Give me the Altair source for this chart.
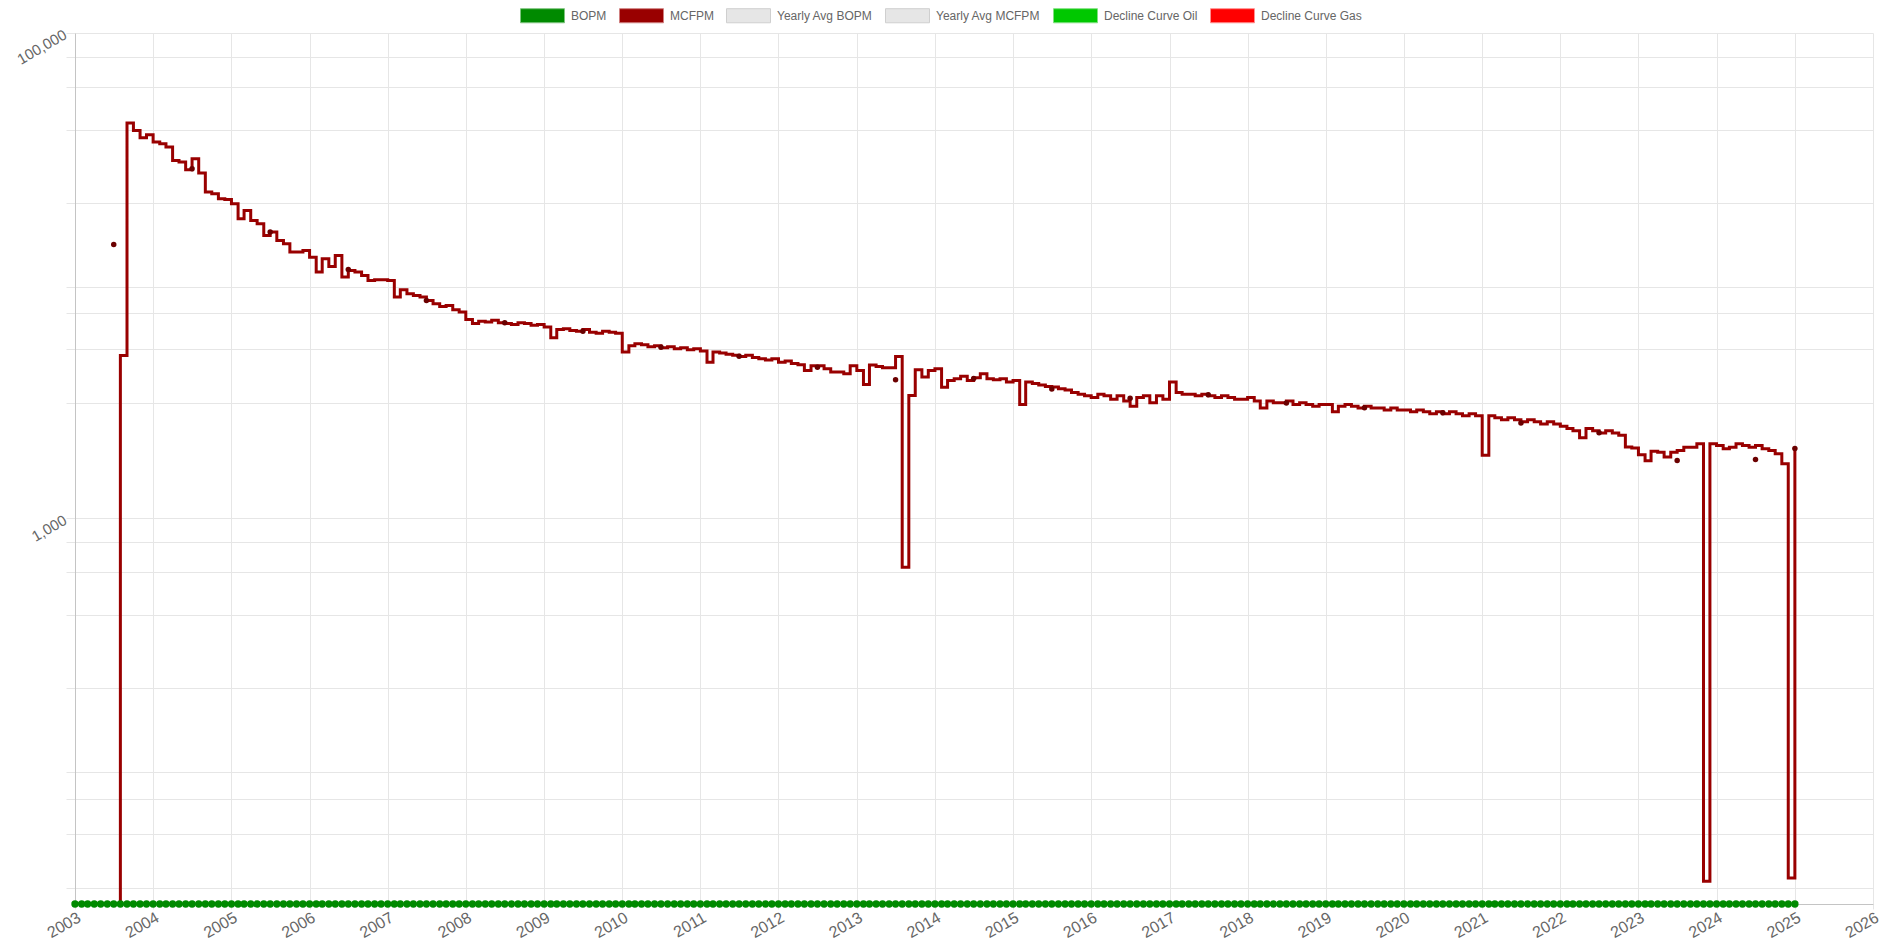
import altair as alt
import pandas as pd

# ---------------- data ----------------
Y_MIN = 25.8  # bottom of the log axis

mcfpm_2003 = [0, 0, 0, 0, 0, 0, 0, 4695, 42540, 39690, 37020, 38080]
mcfpm_2004 = [35520, 34970, 33880, 29860, 29390, 27330, 30330, 26480, 22110, 21760, 20750, 20620]
mcfpm_2005 = [19790, 17170, 18580, 16900, 16370, 14660, 15130, 13980, 13540, 12510, 12510, 12710]
mcfpm_2006 = [11930, 10350, 11740, 10920, 12120, 9870, 10510, 10350, 10030, 9560, 9625, 9625]
mcfpm_2007 = [9560, 8166, 8755, 8428, 8296, 8166, 7911, 7665, 7474, 7545, 7242, 7083]
mcfpm_2008 = [6600, 6350, 6500, 6450, 6550, 6400, 6350, 6300, 6400, 6350, 6250, 6300]
mcfpm_2009 = [6150, 5550, 6000, 6050, 5950, 5900, 6000, 5850, 5800, 5900, 5850, 5800]
mcfpm_2010 = [4850, 5150, 5250, 5200, 5100, 5150, 5050, 5100, 5000, 5050, 4950, 5000]
mcfpm_2011 = [4900, 4400, 4850, 4800, 4750, 4700, 4650, 4700, 4600, 4550, 4500, 4550]
mcfpm_2012 = [4400, 4450, 4350, 4300, 4070, 4260, 4260, 4137, 4010, 4010, 3945, 4260]
mcfpm_2013 = [4070, 3565, 4290, 4230, 4175, 4175, 4650, 630, 3211, 4098, 3824, 4070]
mcfpm_2014 = [4137, 3475, 3703, 3760, 3850, 3703, 3800, 3945, 3760, 3726, 3760, 3650]
mcfpm_2015 = [3700, 2950, 3650, 3600, 3550, 3500, 3480, 3420, 3380, 3300, 3250, 3200]
mcfpm_2016 = [3150, 3250, 3200, 3100, 3200, 3050, 2900, 3150, 3200, 3000, 3200, 3100]
mcfpm_2017 = [3650, 3300, 3250, 3250, 3200, 3250, 3200, 3150, 3200, 3150, 3100, 3100]
mcfpm_2018 = [3150, 3050, 2850, 3050, 3000, 3000, 3050, 2950, 3000, 2950, 2900, 2950]
mcfpm_2019 = [2950, 2750, 2900, 2950, 2900, 2850, 2900, 2850, 2850, 2800, 2850, 2800]
mcfpm_2020 = [2800, 2750, 2800, 2750, 2700, 2750, 2700, 2750, 2700, 2650, 2700, 2650]
mcfpm_2021 = [1820, 2650, 2600, 2550, 2600, 2550, 2500, 2550, 2500, 2450, 2500, 2450]
mcfpm_2022 = [2400, 2350, 2300, 2150, 2350, 2300, 2250, 2300, 2250, 2200, 1970, 1950]
mcfpm_2023 = [1830, 1730, 1890, 1876, 1790, 1876, 1906, 1966, 1966, 2031, 32, 2031]
mcfpm_2024 = [2000, 1936, 1966, 2031, 2000, 1966, 2000, 1936, 1906, 1848, 1680, 33]
mcfpm_2025 = [1936]

# oil production is zero every month (dots sit on the axis floor)
bopm_per_month = 0

yearly_avg_dates = [f"{y}-07-01" for y in range(2003, 2025)] + ["2025-01-01"]
yearly_avg_mcfpm = [13460, 27600, 15130, 10620, 7910, 6400, 5900, 5070, 4660, 4200,
                    3730, 3770, 3415, 3125, 3230, 2990, 2860, 2725, 2475, 2254,
                    1734, 1750, 1940]

legend_names = ["BOPM", "MCFPM", "Yearly Avg BOPM", "Yearly Avg MCFPM",
                "Decline Curve Oil", "Decline Curve Gas"]
legend_fill = ["#008a00", "#990000", "#e6e6e6", "#e6e6e6", "#00c800", "#ff0000"]
legend_stroke = ["#7fc47f", "#d08080", "#cfcfcf", "#cfcfcf", "#80e080", "#ff9090"]

y_grid_values = [30, 50, 70, 90, 200, 400, 600, 800, 1000, 3000, 5000, 7000, 9000,
                 20000, 40000, 60000, 80000, 100000]

# ---------------- tables ----------------
months = [f"{y}-{m:02d}-01" for y in range(2003, 2025) for m in range(1, 13)] + ["2025-01-01"]
mcfpm = (mcfpm_2003 + mcfpm_2004 + mcfpm_2005 + mcfpm_2006 + mcfpm_2007 + mcfpm_2008 +
         mcfpm_2009 + mcfpm_2010 + mcfpm_2011 + mcfpm_2012 + mcfpm_2013 + mcfpm_2014 +
         mcfpm_2015 + mcfpm_2016 + mcfpm_2017 + mcfpm_2018 + mcfpm_2019 + mcfpm_2020 +
         mcfpm_2021 + mcfpm_2022 + mcfpm_2023 + mcfpm_2024 + mcfpm_2025)
monthly = pd.DataFrame({"date": months, "MCFPM": mcfpm,
                        "BOPM": [bopm_per_month] * len(months)})
yearly = pd.DataFrame({"date": yearly_avg_dates, "avg": yearly_avg_mcfpm})
legend_df = pd.DataFrame({"series": legend_names,
                          "date": ["1990-01-01"] * len(legend_names),
                          "v": [1000] * len(legend_names)})

FONT = "Liberation Sans"
GRID = "#e6e6e6"

x_scale = alt.Scale(type="utc", domain=[alt.DateTime(year=2003, month=1, date=1, utc=True),
                                        alt.DateTime(year=2026, month=1, date=1, utc=True)])
y_scale = alt.Scale(type="log", domain=[Y_MIN, 100000], nice=False)

x_axis = alt.Axis(title=None, tickCount={"interval": "year", "step": 1},
                  labelExpr="utcFormat(datum.value, '%Y')",
                  labelAngle=-30, labelAlign="right", labelBaseline="top",
                  labelFontSize=16, labelFont=FONT, labelColor="#666666",
                  labelFlush=False, labelOverlap=False, labelPadding=0,
                  gridColor=GRID, tickColor=GRID, tickSize=5,
                  domainColor="#c4c4c4")
y_axis = alt.Axis(title=None, values=y_grid_values,
                  labelExpr="datum.value == 1000 || datum.value == 100000 ? format(datum.value, ',') : ''",
                  labelAngle=-30, labelAlign="right", labelBaseline="middle",
                  labelFontSize=15, labelFont=FONT, labelColor="#666666",
                  labelOverlap=False, labelPadding=1,
                  gridColor=GRID, tickColor=GRID, tickSize=9,
                  domainColor="#c4c4c4")

line = alt.Chart(monthly).transform_calculate(
    plotv=f"max(datum.MCFPM, {Y_MIN})"
).mark_line(interpolate="step-after", color="#990000", strokeWidth=3, clip=True).encode(
    x=alt.X("date:T", scale=x_scale, axis=x_axis),
    y=alt.Y("plotv:Q", scale=y_scale, axis=y_axis),
)

avg_dots = alt.Chart(yearly).mark_circle(size=30, color="#6b0000", opacity=1).encode(
    x=alt.X("date:T", scale=x_scale),
    y=alt.Y("avg:Q", scale=y_scale),
)

bopm_dots = alt.Chart(monthly).transform_calculate(
    plotv=f"max(datum.BOPM, {Y_MIN})"
).mark_circle(size=55, color="#008a00", opacity=1).encode(
    x=alt.X("date:T", scale=x_scale),
    y=alt.Y("plotv:Q", scale=y_scale),
)

legend_layer = alt.Chart(legend_df).mark_square(filled=True, clip=True, strokeWidth=1).encode(
    x=alt.X("date:T", scale=x_scale),
    y=alt.Y("v:Q", scale=y_scale),
    color=alt.Color("series:N", scale=alt.Scale(domain=legend_names, range=legend_fill),
                    legend=alt.Legend(title=None, orient="none", legendX=445, legendY=-40,
                                      direction="horizontal", columns=6,
                                      symbolType="M-1,-0.32H1V0.32H-1Z", symbolSize=1936,
                                      symbolStrokeWidth=1, symbolOpacity=1,
                                      labelFont=FONT, labelFontSize=12, labelColor="#666666",
                                      labelOffset=6, columnPadding=10, padding=0)),
    stroke=alt.Stroke("series:N", scale=alt.Scale(domain=legend_names, range=legend_stroke),
                      legend=None),
)

chart = alt.layer(line, avg_dots, bopm_dots, legend_layer).properties(
    width=1798, height=871,
    padding={"left": 67, "top": 25, "right": 10, "bottom": 40},
    autosize=alt.AutoSizeParams(type="none"),
).configure_view(strokeWidth=0)

chart.save("out.html", embed_options={"renderer": "svg", "actions": False})
